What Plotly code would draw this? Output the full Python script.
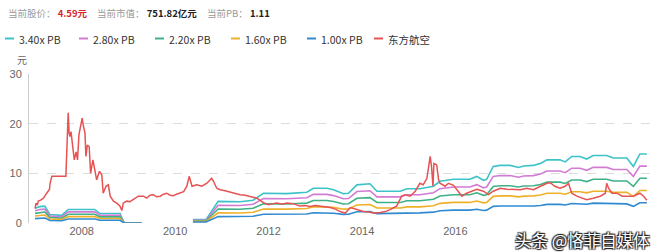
import plotly.graph_objects as go
import pandas as pd

# ---------------- data ----------------
price_t = [2007.00, 2007.02, 2007.05, 2007.07, 2007.12, 2007.18, 2007.25, 2007.31, 2007.32, 2007.36,
           2007.66, 2007.68, 2007.71, 2007.73, 2007.75, 2007.77, 2007.81, 2007.84, 2007.88, 2007.91,
           2007.94, 2007.99, 2008.01, 2008.03, 2008.07, 2008.09, 2008.12, 2008.16, 2008.19, 2008.24,
           2008.28, 2008.32, 2008.38, 2008.43, 2008.46, 2008.52, 2008.57, 2008.61, 2008.68, 2008.75,
           2008.82, 2008.86, 2008.89, 2008.96, 2009.03, 2009.10, 2009.16, 2009.21, 2009.32, 2009.39,
           2009.46, 2009.53, 2009.60, 2009.68, 2009.75, 2009.82, 2009.89, 2009.96, 2010.03, 2010.10,
           2010.18, 2010.25, 2010.30, 2010.36, 2010.46, 2010.57, 2010.68, 2010.78, 2010.82, 2010.89,
           2010.96, 2011.07, 2011.18, 2011.29, 2011.39, 2011.50, 2011.60, 2011.75, 2011.89, 2012.00,
           2012.09, 2012.18, 2012.29, 2012.39, 2012.53, 2012.67, 2012.78, 2012.89, 2013.00, 2013.10,
           2013.21, 2013.32, 2013.43, 2013.53, 2013.64, 2013.75, 2013.89, 2014.03, 2014.14, 2014.24,
           2014.39, 2014.50, 2014.60, 2014.74, 2014.85, 2014.92, 2015.03, 2015.14, 2015.24, 2015.31,
           2015.39, 2015.46, 2015.49, 2015.52, 2015.54, 2015.60, 2015.64, 2015.67, 2015.78, 2015.85,
           2015.96, 2016.06, 2016.14, 2016.24, 2016.35, 2016.46, 2016.60, 2016.71, 2016.81, 2016.96,
           2017.10, 2017.24, 2017.39, 2017.53, 2017.67, 2017.82, 2017.96, 2018.03, 2018.13, 2018.24,
           2018.35, 2018.42, 2018.49, 2018.60, 2018.74, 2018.81, 2018.95, 2019.10, 2019.21, 2019.24,
           2019.28, 2019.35, 2019.46, 2019.57, 2019.67, 2019.81, 2019.95, 2020.03, 2020.10]
price = [2.9, 4.0, 3.6, 4.4, 4.6, 5.0, 6.0, 6.8, 7.9, 9.4,
         9.4, 16.0, 22.2, 18.0, 17.4, 18.4, 14.7, 12.7, 14.3, 12.7,
         17.8, 20.7, 21.1, 19.8, 18.1, 13.4, 15.7, 15.4, 10.0, 12.7,
         11.0, 8.7, 10.4, 9.7, 6.0, 7.4, 7.7, 5.4, 4.4, 4.0,
         3.4, 2.5, 4.0, 4.4, 4.3, 4.7, 5.0, 5.4, 5.4, 5.0,
         5.6, 5.7, 5.3, 5.4, 5.8, 6.0, 5.6, 5.5, 5.8, 6.0,
         6.3, 7.4, 9.4, 7.4, 7.7, 7.4, 8.0, 9.0, 8.4, 7.0,
         6.7, 6.5, 6.2, 6.0, 5.7, 5.6, 5.4, 5.0, 4.1, 3.7,
         3.9, 4.0, 3.8, 4.0, 3.9, 3.4, 3.5, 3.3, 3.5, 3.4,
         3.2, 3.1, 2.8, 2.3, 2.0, 3.1, 2.7, 2.3, 2.2, 2.0,
         2.1, 2.3, 2.7, 3.4, 5.4, 5.7, 5.4, 6.4, 8.0, 7.7,
         9.0, 13.4, 11.3, 7.4, 12.0, 11.7, 8.7, 8.0, 7.4, 8.0,
         7.6, 6.4, 5.4, 6.0, 6.4, 6.8, 6.4, 5.7, 6.4, 7.0,
         6.8, 6.7, 6.7, 7.0, 6.7, 7.4, 8.0, 8.1, 7.4, 7.0,
         7.4, 8.0, 6.0, 5.4, 5.0, 4.7, 5.0, 5.4, 6.0, 8.0,
         7.0, 6.0, 6.0, 5.4, 5.4, 5.4, 6.0, 5.4, 4.59]

# book value per share (the 1.00x PB line); None = no band drawn
bvps_t = [2007.00, 2007.10, 2007.21, 2007.32, 2007.57, 2007.71, 2008.28, 2008.39, 2008.82, 2008.91,
          2009.28, 2009.29, 2010.38, 2010.66, 2010.92, 2011.39, 2011.67, 2011.89, 2012.39, 2012.82,
          2012.96, 2013.25, 2013.39, 2013.60, 2013.71, 2013.89, 2014.17, 2014.32, 2014.82, 2014.96,
          2015.24, 2015.53, 2015.67, 2015.96, 2016.31, 2016.46, 2016.60, 2016.67, 2016.81, 2016.96,
          2017.17, 2017.35, 2017.46, 2017.67, 2017.82, 2017.96, 2018.24, 2018.35, 2018.49, 2018.67,
          2018.81, 2018.95, 2019.24, 2019.38, 2019.67, 2019.81, 2019.95, 2020.10]
bvps = [0.88, 0.97, 1.00, 0.50, 0.45, 0.80, 0.80, 0.56, 0.56, 0.0,
        0.0, None, 0.20, 0.20, 1.28, 1.26, 1.35, 1.76, 1.74, 1.82,
        2.06, 2.06, 1.97, 1.74, 1.76, 2.26, 2.32, 1.88, 1.88, 2.03,
        2.03, 2.18, 2.47, 2.59, 2.59, 2.76, 2.53, 2.59, 3.35, 3.41,
        3.41, 3.29, 3.38, 3.41, 3.53, 3.74, 3.74, 3.62, 3.94, 3.94,
        3.79, 4.00, 4.00, 3.85, 3.85, 3.35, 4.09, 4.09]

pb_names = ["3.40x PB", "2.80x PB", "2.20x PB", "1.60x PB", "1.00x PB"]
pb_mult = [3.40, 2.80, 2.20, 1.60, 1.00]
pb_colors = ["#3cc3c9", "#d27bd4", "#3fb186", "#efb02a", "#2f8ad2"]
price_name = "东方航空"
price_color = "#e65353"

x_ticks = [2008, 2010, 2012, 2014, 2016]
y_ticks = [0, 10, 20, 30]

header = [("当前股价：", "4.59元", "#d6262a"),
          ("当前市值：", "751.82亿元", "#222222"),
          ("当前PB：", "1.11", "#222222")]


def to_date(y):
    yr = int(y)
    return pd.Timestamp(year=yr, month=1, day=1) + pd.Timedelta(days=(y - yr) * 365.25)


# ---------------- figure ----------------
W, H = 660, 252
ML, MR, MT, MB = 29, 8, 74, 29
PW, PH = W - ML - MR, H - MT - MB


def px(x):
    return (x - ML) / PW


def py(y):
    return (H - MB - y) / PH


fig = go.Figure()
bx = [to_date(t) for t in bvps_t]
for name, m, c in zip(pb_names, pb_mult, pb_colors):
    fig.add_trace(go.Scatter(x=bx, y=[None if v is None else v * m for v in bvps],
                             mode="lines", name=name, line=dict(color=c, width=1.6),
                             connectgaps=False, showlegend=False))
fig.add_trace(go.Scatter(x=[to_date(t) for t in price_t], y=price, mode="lines",
                         name=price_name, line=dict(color=price_color, width=1.5),
                         showlegend=False))

# header text
hx = [6, 95, 205]
ann = []
for (lab, val, col), x in zip(header, hx):
    ann.append(dict(x=px(x), y=py(13), xref="paper", yref="paper", xanchor="left", yanchor="middle",
                    text='%s<span style="color:%s"><b> %s</b></span>' % (lab, col, val),
                    showarrow=False,
                    font=dict(family="Noto Sans CJK SC, Liberation Sans", size=9.5, color="#9a9a9a")))

# manual legend
leg_x = [5, 79, 155, 231, 307, 374]
shapes = []
for i, (name, c) in enumerate(zip(pb_names + [price_name], pb_colors + [price_color])):
    x0 = leg_x[i]
    shapes.append(dict(type="line", xref="paper", yref="paper", x0=px(x0), x1=px(x0 + 9),
                       y0=py(38.5), y1=py(38.5), line=dict(color=c, width=2)))
    ann.append(dict(x=px(x0 + 12), y=py(39), xref="paper", yref="paper", xanchor="left",
                    yanchor="middle", text=name, showarrow=False,
                    font=dict(family="Noto Sans CJK SC, Liberation Sans", size=10.5, color="#333")))

# unit label
ann.append(dict(x=px(22), y=py(59), xref="paper", yref="paper", xanchor="center", yanchor="middle",
                text="元", showarrow=False,
                font=dict(family="Noto Sans CJK SC", size=10, color="#666")))

# watermark
ann.append(dict(x=px(652), y=py(240), xref="paper", yref="paper", xanchor="right", yanchor="middle",
                text="头条 @恪菲自媒体", showarrow=False,
                font=dict(family="Noto Sans CJK SC", size=16.5, color="#ffffff",
                          shadow="1px 1px 1px #222, -1px -1px 1px #222, 1px -1px 1px #222, -1px 1px 1px #222")))

fig.update_layout(
    width=W, height=H, margin=dict(l=ML, r=MR, t=MT, b=MB),
    paper_bgcolor="white", plot_bgcolor="white",
    shapes=shapes, annotations=ann, showlegend=False,
    xaxis=dict(range=[to_date(2006.87), to_date(2020.21)], type="date",
               tickvals=[to_date(v) for v in x_ticks], ticktext=[str(v) for v in x_ticks],
               showgrid=False, zeroline=False, showline=False, ticks="",
               tickfont=dict(family="Liberation Sans", size=11, color="#666")),
    yaxis=dict(range=[0, 30], tickvals=y_ticks, showgrid=True, gridcolor="#dcdcdc",
               griddash="dash", gridwidth=1, zeroline=False, showline=True, linecolor="#cccccc",
               ticks="", ticklabelstandoff=4,
               tickfont=dict(family="Liberation Sans", size=11, color="#666")),
)

fig.write_html("out.html")
